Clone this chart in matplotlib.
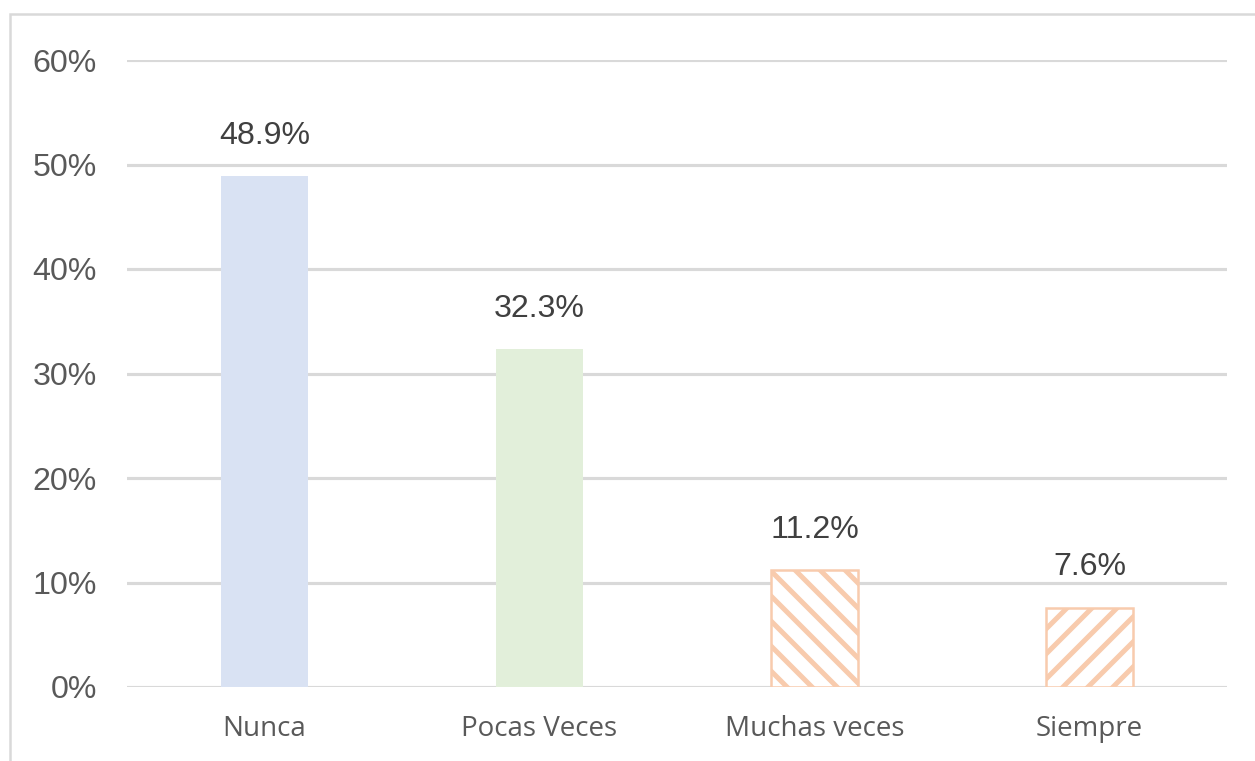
import matplotlib.pyplot as plt
from matplotlib.patches import Rectangle
from matplotlib.ticker import PercentFormatter

# data
categories = ['Nunca', 'Pocas Veces', 'Muchas veces', 'Siempre']
values = [0.489, 0.323, 0.112, 0.076]
labels = ['48.9%', '32.3%', '11.2%', '7.6%']
yticks = [0, 0.1, 0.2, 0.3, 0.4, 0.5, 0.6]

face_colors = ['#D9E2F3', '#E2EFDA', 'white', 'white']
edge_colors = ['#D9E2F3', '#E2EFDA', '#F8CBAD', '#F8CBAD']
hatches = [None, None, '\\\\', '//']

plt.rcParams['hatch.linewidth'] = 2.4

fig = plt.figure(figsize=(1255 / 150, 761 / 150), dpi=150)
ax = fig.add_axes([127 / 1255, 1 - 687 / 761, 1100 / 1255, 627 / 761])

# outer frame, cut off at right and bottom like the original
fig.patches.append(Rectangle((10 / 1255, -0.1), 1.2, 1 - 14 / 761 + 0.1,
                             transform=fig.transFigure, fill=False,
                             edgecolor='#D9D9D9', linewidth=1.2, zorder=0))

x = range(len(categories))
for i in x:
    ax.bar(i, values[i], width=0.316, color=face_colors[i],
           edgecolor=edge_colors[i], hatch=hatches[i],
           linewidth=1.2 if hatches[i] else 0, zorder=3)
    ax.annotate(labels[i], (i, values[i]), xytext=(0, 15.4),
                textcoords='offset points', ha='center', va='baseline',
                fontsize=15.4, color='#404040', family='Liberation Sans')

ax.set_xlim(-0.5, 3.5)
ax.set_ylim(0, 0.6)
ax.set_yticks(yticks)
ax.yaxis.set_major_formatter(PercentFormatter(1.0, decimals=0))
ax.set_xticks(list(x))
ax.set_xticklabels(categories, family='Open Sans', fontsize=13.3, color='#595959')
for t in ax.get_yticklabels():
    t.set_family('Liberation Sans')
    t.set_fontsize(15.4)
    t.set_color('#595959')
ax.tick_params(axis='y', length=0, pad=14.4)
ax.tick_params(axis='x', length=0, pad=13.5)
ax.grid(axis='y', color='#D9D9D9', linewidth=1.5, zorder=0)
ax.set_axisbelow(True)
for s in ax.spines.values():
    s.set_visible(False)

fig.savefig('out.png', dpi=150)
